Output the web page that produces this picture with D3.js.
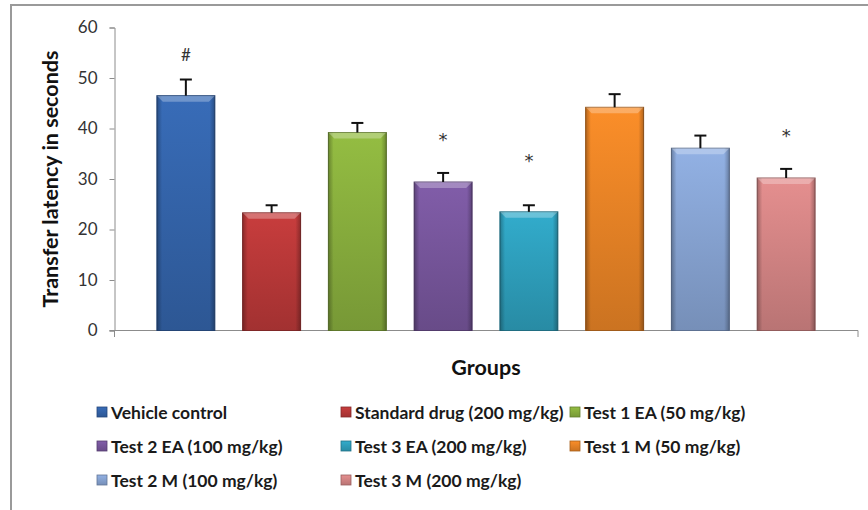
<!DOCTYPE html>
<html>
<head>
<meta charset="utf-8">
<script src="https://cdn.jsdelivr.net/npm/d3@7"></script>
<style>
  html, body { margin: 0; padding: 0; background: #fff; }
  svg { display: block; font-family: Lato, "Open Sans", sans-serif; }
</style>
</head>
<body>
<svg id="chart" width="868" height="510"></svg>
<script>
// Transfer latency per treatment group (mean, upper error), one bar per group
const groups = [
  "Vehicle control",
  "Standard drug (200 mg/kg)",
  "Test 1 EA (50 mg/kg)",
  "Test 2 EA (100 mg/kg)",
  "Test 3 EA (200 mg/kg)",
  "Test 1 M (50 mg/kg)",
  "Test 2 M (100 mg/kg)",
  "Test 3 M (200 mg/kg)"
];
const latency = [46.5, 23.3, 39.2, 29.4, 23.5, 44.2, 36.1, 30.2];
const errors  = [3.2, 1.5, 1.9, 1.8, 1.3, 2.6, 2.5, 1.8];
// significance marks and the level (in seconds) at which each is written
const marks      = ["#", "", "", "*", "*", "", "", "*"];
const markLevels = [54.5, null, null, 37.8, 33.5, null, null, 38.6];
const yTicks = [0, 10, 20, 30, 40, 50, 60];
const colors = ["#3566AE", "#BE3A3A", "#8CB33F", "#7A58A0", "#2FA3C1", "#EE8727", "#8AA8D8", "#D98888"];

const svg = d3.select("#chart");

// outer frame
svg.append("rect")
  .attr("x", 11).attr("y", 5).attr("width", 880).attr("height", 540)
  .attr("fill", "none").attr("stroke", "#9a9a9a").attr("stroke-width", 2);

const x = d3.scaleBand().domain(groups).range([114, 858])
  .paddingInner(0.324).paddingOuter(0.5);
const y = d3.scaleLinear().domain([0, 60]).range([330.5, 27.5]);

// gradients for bevelled bars
const defs = svg.append("defs");
colors.forEach((c, i) => {
  const base = d3.color(c);
  const g = defs.append("linearGradient").attr("id", "bar" + i)
    .attr("x1", 0).attr("y1", 0).attr("x2", 0).attr("y2", 1);
  g.append("stop").attr("offset", "0%").attr("stop-color", base.brighter(0.15));
  g.append("stop").attr("offset", "100%").attr("stop-color", base.darker(0.45));
  const h = defs.append("linearGradient").attr("id", "side" + i)
    .attr("x1", 0).attr("y1", 0).attr("x2", 1).attr("y2", 0);
  h.append("stop").attr("offset", "0%").attr("stop-color", "#000").attr("stop-opacity", 0.28);
  h.append("stop").attr("offset", "9%").attr("stop-color", "#000").attr("stop-opacity", 0.0);
  h.append("stop").attr("offset", "91%").attr("stop-color", "#000").attr("stop-opacity", 0.0);
  h.append("stop").attr("offset", "100%").attr("stop-color", "#000").attr("stop-opacity", 0.28);
});

// y axis
const yAxis = svg.append("g").attr("transform", "translate(114.5,0)")
  .call(d3.axisLeft(y).tickValues(yTicks).tickSize(5).tickPadding(12));
yAxis.select(".domain").attr("stroke", "#8c8c8c");
yAxis.selectAll(".tick line").attr("stroke", "#8c8c8c");
yAxis.selectAll(".tick text").attr("fill", "#333").attr("font-size", 17)
  .attr("font-family", "Lato, 'Open Sans', sans-serif");

// x axis baseline with end ticks
svg.append("line").attr("x1", 109.5).attr("x2", 858).attr("y1", 330.5).attr("y2", 330.5)
  .attr("stroke", "#8c8c8c");
svg.append("line").attr("x1", 858).attr("x2", 858).attr("y1", 330.5).attr("y2", 337)
  .attr("stroke", "#8c8c8c");
svg.append("line").attr("x1", 114.5).attr("x2", 114.5).attr("y1", 330.5).attr("y2", 337)
  .attr("stroke", "#8c8c8c");

// bars
const bars = svg.append("g").selectAll("g").data(groups).join("g");
bars.append("rect")
  .attr("x", d => x(d)).attr("width", x.bandwidth())
  .attr("y", (d, i) => y(latency[i])).attr("height", (d, i) => y(0) - y(latency[i]))
  .attr("fill", (d, i) => `url(#bar${i})`)
  .attr("stroke", (d, i) => d3.color(colors[i]).darker(1.1)).attr("stroke-width", 1);
bars.append("rect")
  .attr("x", d => x(d)).attr("width", x.bandwidth())
  .attr("y", (d, i) => y(latency[i])).attr("height", (d, i) => y(0) - y(latency[i]))
  .attr("fill", (d, i) => `url(#side${i})`);
// top bevel
bars.append("path")
  .attr("d", (d, i) => {
    const x0 = x(d), x1 = x(d) + x.bandwidth(), t = y(latency[i]);
    return `M${x0},${t}L${x1},${t}L${x1 - 6},${t + 6}L${x0 + 6},${t + 6}Z`;
  })
  .attr("fill", "#fff").attr("fill-opacity", 0.28);

// error bars (upper only)
const eb = svg.append("g").attr("stroke", "#111").attr("stroke-width", 2);
groups.forEach((g, i) => {
  const cx = x(g) + x.bandwidth() / 2;
  eb.append("line").attr("x1", cx).attr("x2", cx)
    .attr("y1", y(latency[i])).attr("y2", y(latency[i] + errors[i]));
  eb.append("line").attr("x1", cx - 6).attr("x2", cx + 6)
    .attr("y1", y(latency[i] + errors[i])).attr("y2", y(latency[i] + errors[i]));
});

// significance marks
svg.append("g").selectAll("text").data(groups.filter((g, i) => marks[i]))
  .join("text")
  .attr("x", g => x(g) + x.bandwidth() / 2)
  .attr("y", g => y(markLevels[groups.indexOf(g)]) + 6)
  .attr("text-anchor", "middle")
  .attr("font-family", g => marks[groups.indexOf(g)] === "*" ? "'DejaVu Sans', sans-serif" : null)
  .attr("font-size", g => marks[groups.indexOf(g)] === "*" ? 18 : 17)
  .attr("fill", "#333")
  .text(g => marks[groups.indexOf(g)]);

// axis titles
svg.append("text")
  .attr("transform", `translate(50,${y(30)}) rotate(-90)`)
  .attr("text-anchor", "middle").attr("dominant-baseline", "central")
  .attr("font-size", 21.5).attr("font-weight", "bold").attr("fill", "#111")
  .text("Transfer latency in seconds");
svg.append("text")
  .attr("x", 486).attr("y", 367)
  .attr("text-anchor", "middle").attr("dominant-baseline", "central")
  .attr("font-size", 21.5).attr("font-weight", "bold").attr("fill", "#111")
  .text("Groups");

// legend: three columns, filled row by row
const colX = [97, 341, 570];
const rowY = [412, 446, 480];
const legend = svg.append("g").selectAll("g").data(groups).join("g")
  .attr("transform", (d, i) => `translate(${colX[i % 3]},${rowY[Math.floor(i / 3)]})`);
legend.append("rect").attr("x", 0).attr("y", -5).attr("width", 10).attr("height", 10)
  .attr("fill", (d, i) => `url(#bar${i})`)
  .attr("stroke", (d, i) => d3.color(colors[i]).darker(1)).attr("stroke-width", 0.8);
legend.append("text").attr("x", 14).attr("y", 0)
  .attr("dominant-baseline", "central")
  .attr("font-size", 17.5).attr("font-weight", "bold").attr("fill", "#1a1a1a")
  .text(d => d);
</script>
</body>
</html>
